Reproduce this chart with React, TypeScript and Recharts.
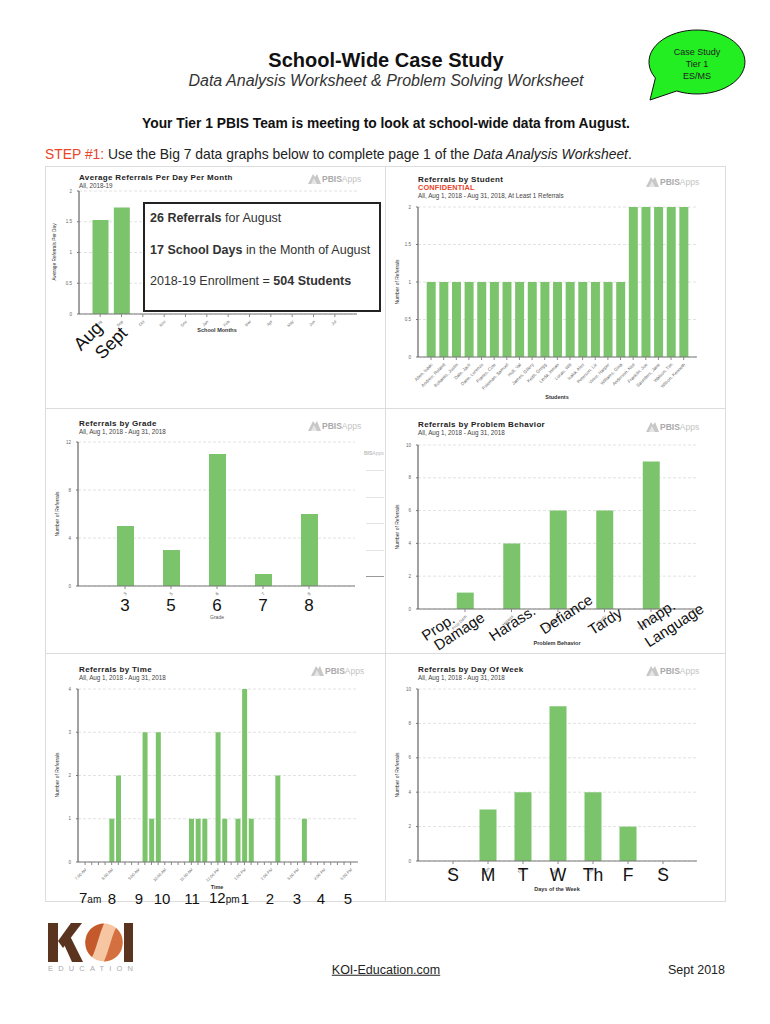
import React from 'react';
import { BarChart, Bar, XAxis, YAxis, CartesianGrid } from 'recharts';

const GREEN = '#7bc46b';
const FONT = '"Liberation Sans", Arial, Helvetica, sans-serif';

// ---------- data ----------
const months = ['Aug', 'Sep', 'Oct', 'Nov', 'Dec', 'Jan', 'Feb', 'Mar', 'Apr', 'May', 'Jun', 'Jul'];
const avgReferralsPerDay = [1.53, 1.73, null, null, null, null, null, null, null, null, null, null];

const students = [
  'Allen, Isaac', 'Andrew, Roland', 'Bohanks, Justin', 'Dale, Jack', 'Dane, Lorenzo',
  'Franks, Cole', 'Foleman, Samuel', 'Holt, Val', 'James, Gillery', 'Keith, Gregg',
  'Linda, Inman', 'Lucas, Will', 'Isaka, Alex', 'Peterson, Liz', 'Vince, Harper',
  'Williams, Gina', 'Anderson, Neil', 'Franklin, Joe', 'Saunders, Jane', 'Watson, Tim',
  'Wilson, Kenneth',
];
const studentReferrals = [1, 1, 1, 1, 1, 1, 1, 1, 1, 1, 1, 1, 1, 1, 1, 1, 2, 2, 2, 2, 2];

const grades = ['3', '5', '6', '7', '8'];
const gradeReferrals = [5, 3, 11, 1, 6];

const behaviors = ['Prop Dam', 'Harass', 'Defiance', 'Tardy', 'Inapp Lan'];
const behaviorReferrals = [1, 4, 6, 6, 9];

const times = [
  '7:00 AM', '7:15 AM', '7:30 AM', '7:45 AM', '8:00 AM', '8:15 AM', '8:30 AM', '8:45 AM',
  '9:00 AM', '9:15 AM', '9:30 AM', '9:45 AM', '10:00 AM', '10:15 AM', '10:30 AM', '10:45 AM',
  '11:00 AM', '11:15 AM', '11:30 AM', '11:45 AM', '12:00 PM', '12:15 PM', '12:30 PM', '12:45 PM',
  '1:00 PM', '1:15 PM', '1:30 PM', '1:45 PM', '2:00 PM', '2:15 PM', '2:30 PM', '2:45 PM',
  '3:00 PM', '3:15 PM', '3:30 PM', '3:45 PM', '4:00 PM', '4:15 PM', '4:30 PM', '4:45 PM',
  '5:00 PM',
];
const timeReferrals = [
  0, 0, 0, 0, 1, 2, 0, 0,
  0, 3, 1, 3, 0, 0, 0, 0,
  1, 1, 1, 0, 3, 1, 0, 1,
  4, 1, 0, 0, 0, 2, 0, 0,
  0, 1, 0, 0, 0, 0, 0, 0,
  0,
];

const days = ['Sun', 'Mon', 'Tue', 'Wed', 'Thu', 'Fri', 'Sat'];
const dayReferrals = [0, 3, 4, 9, 4, 2, 0];

const zip = (names: string[], vals: (number | null)[]) => names.map((name, i) => ({ name, value: vals[i] }));

// ---------- helpers ----------
type TxtProps = {
  x: number; y: number; size: number; children: React.ReactNode;
  bold?: boolean; italic?: boolean; color?: string; anchor?: 'start' | 'middle' | 'end';
  rotate?: number; ls?: number; underline?: boolean;
};
const Txt = ({ x, y, size, children, bold, italic, color = '#222', anchor = 'start', rotate = 0, ls = 0, underline }: TxtProps) => {
  const tx = anchor === 'middle' ? '-50%' : anchor === 'end' ? '-100%' : '0%';
  return (
    <div style={{ position: 'absolute', left: x, top: y, width: 0, height: 0 }}>
      <div
        style={{
          position: 'absolute', left: 0, top: 0, fontSize: size, lineHeight: `${size}px`,
          fontWeight: bold ? 700 : 400, fontStyle: italic ? 'italic' : 'normal', color,
          whiteSpace: 'nowrap', letterSpacing: ls, fontFamily: FONT,
          textDecoration: underline ? 'underline' : 'none',
          transform: `translate(${tx}, -50%) rotate(${rotate}deg)`,
        }}
      >
        {children}
      </div>
    </div>
  );
};

const RotTick = (props: any) => {
  const { x, y, payload, fs, show } = props;
  if (show && !show(payload.value)) return <g />;
  const yy = y + 2;
  return (
    <text x={x + 1} y={yy} transform={`rotate(-45 ${x + 1} ${yy})`} textAnchor="end" fontSize={fs} fill="#666" fontFamily={FONT} dy="0.3em">
      {payload.value}
    </text>
  );
};

type Plot = { x1: number; y1: number; x2: number; y2: number };
const MiniBar = ({ data, plot, domain, ticks, pad, barSize, fs, show }: {
  data: any[]; plot: Plot; domain: [number, number]; ticks: number[]; pad: [number, number];
  barSize: number; fs: number; show?: (v: string) => boolean;
}) => {
  const yW = 40, top = 10, right = 10, xH = 40;
  const width = plot.x2 - plot.x1 + yW + right;
  const height = plot.y2 - plot.y1 + top + xH;
  return (
    <div style={{ position: 'absolute', left: plot.x1 - yW, top: plot.y1 - top }}>
      <BarChart width={width} height={height} data={data} margin={{ top, right, left: 0, bottom: 0 }}>
        <CartesianGrid vertical={false} stroke="#e2e2e2" strokeDasharray="3 2" />
        <XAxis
          dataKey="name" interval={0} padding={{ left: pad[0], right: pad[1] }} height={xH}
          tick={(p: any) => <RotTick {...p} fs={fs} show={show} />}
          tickLine={{ stroke: '#888' }} tickSize={3} axisLine={{ stroke: '#777' }}
        />
        <YAxis
          width={yW} domain={domain} ticks={ticks} type="number"
          tick={{ fontSize: 4.5, fill: '#666', fontFamily: FONT }} tickSize={2} tickMargin={5}
          axisLine={{ stroke: '#444' }} tickLine={{ stroke: '#777' }}
        />
        <Bar dataKey="value" fill={GREEN} barSize={barSize} isAnimationActive={false} />
      </BarChart>
    </div>
  );
};

const PbisLogo = ({ x, y }: { x: number; y: number }) => (
  <svg style={{ position: 'absolute', left: x, top: y - 7 }} width={58} height={14}>
    <polygon points="1,13 6,3 8,6 10,3 14,13" fill="#c8c8c8" />
    <polygon points="4,13 7,7 10,13" fill="#e6e6e6" />
    <text x={15} y={10.5} fontSize={8.5} fontFamily={FONT} fill="#aaa">
      <tspan fontWeight={700}>PBIS</tspan><tspan fill="#c4c4c4">Apps</tspan>
    </text>
  </svg>
);

const ChartHead = ({ x, y, title, sub, conf }: { x: number; y: number; title: string; sub: string; conf?: boolean }) => (
  <>
    <Txt x={x} y={y} size={8} bold ls={0.35} color="#222">{title}</Txt>
    {conf && <Txt x={x} y={y + 8} size={7.3} bold ls={0.2} color="#e8452a">CONFIDENTIAL</Txt>}
    <Txt x={x} y={y + (conf ? 15.5 : 7.5)} size={6.3} color="#444">{sub}</Txt>
  </>
);

const SUB = 'All, Aug 1, 2018 - Aug 31, 2018';

export default function App() {
  const timeShow = (v: string) => v.includes(':00');
  return (
    <div style={{ position: 'absolute', left: 0, top: 0, width: 770, height: 1024, background: '#fff', overflow: 'hidden', fontFamily: FONT }}>
      {/* header */}
      <Txt x={386} y={60} size={20} bold anchor="middle" color="#111">School-Wide Case Study</Txt>
      <Txt x={386} y={81} size={16} italic anchor="middle" color="#333">Data Analysis Worksheet &amp; Problem Solving Worksheet</Txt>

      <svg style={{ position: 'absolute', left: 0, top: 0 }} width={770} height={110}>
        <path d="M 676.7 91 L 650 100 L 655.4 78 A 48 32 0 1 1 676.7 91 Z" fill="#22ee22" stroke="#111" strokeWidth={1} />
        <text x={697} y={55} textAnchor="middle" fontSize={9} fontFamily={FONT} fill="#222">Case Study</text>
        <text x={697} y={67} textAnchor="middle" fontSize={9} fontFamily={FONT} fill="#222">Tier 1</text>
        <text x={697} y={79} textAnchor="middle" fontSize={9} fontFamily={FONT} fill="#222">ES/MS</text>
      </svg>

      <Txt x={386} y={124} size={13.8} bold anchor="middle" color="#111">Your Tier 1 PBIS Team is meeting to look at school-wide data from August.</Txt>
      <Txt x={45} y={155} size={13.9} color="#222">
        <span style={{ color: '#e8452a' }}>STEP #1:</span> Use the Big 7 data graphs below to complete page 1 of the <i>Data Analysis Worksheet</i>.
      </Txt>

      {/* panel frame */}
      <div style={{ position: 'absolute', left: 45, top: 166, width: 679, height: 734, border: '1px solid #dcdcdc' }} />
      <div style={{ position: 'absolute', left: 385, top: 166, width: 1, height: 735, background: '#dcdcdc' }} />
      <div style={{ position: 'absolute', left: 45, top: 408, width: 680, height: 1, background: '#dcdcdc' }} />
      <div style={{ position: 'absolute', left: 45, top: 653, width: 680, height: 1, background: '#dcdcdc' }} />

      {/* chart 1 : average referrals per day per month */}
      <ChartHead x={79} y={178} title="Average Referrals Per Day Per Month" sub="All, 2018-19" />
      <PbisLogo x={307} y={178} />
      <MiniBar data={zip(months, avgReferralsPerDay)} plot={{ x1: 79, y1: 191, x2: 357, y2: 314 }} domain={[0, 2]} ticks={[0, 0.5, 1, 1.5, 2]} pad={[10.5, 11.5]} barSize={16} fs={4} />
      <Txt x={55} y={252} size={4.8} anchor="middle" rotate={-90} color="#333">Average Referrals Per Day</Txt>
      <Txt x={217} y={331} size={5.5} bold anchor="middle" color="#333">School Months</Txt>
      <div style={{ position: 'absolute', left: 143, top: 202, width: 234, height: 106, border: '2px solid #222', background: '#fff' }} />
      <Txt x={150} y={218} size={12.5} color="#333"><b>26 Referrals</b> for August</Txt>
      <Txt x={150} y={250} size={12.5} color="#333"><b>17 School Days</b> in the Month of August</Txt>
      <Txt x={150} y={281} size={12.5} color="#333">2018-19 Enrollment = <b>504 Students</b></Txt>
      <Txt x={88} y={336} size={18} anchor="middle" rotate={-45} color="#111">Aug</Txt>
      <Txt x={111} y={343} size={18} anchor="middle" rotate={-45} color="#111">Sept</Txt>

      {/* chart 2 : referrals by student */}
      <ChartHead x={418} y={180} title="Referrals by Student" sub="All, Aug 1, 2018 - Aug 31, 2018, At Least 1 Referrals" conf />
      <PbisLogo x={645} y={181} />
      <MiniBar data={zip(students, studentReferrals)} plot={{ x1: 418, y1: 207, x2: 697, y2: 357 }} domain={[0, 2]} ticks={[0, 0.5, 1, 1.5, 2]} pad={[6.7, 7]} barSize={9} fs={4.5} />
      <Txt x={397} y={282} size={5} anchor="middle" rotate={-90} color="#333">Number of Referrals</Txt>
      <Txt x={557} y={398} size={5.5} bold anchor="middle" color="#333">Students</Txt>

      {/* chart 3 : referrals by grade */}
      <ChartHead x={79} y={424} title="Referrals by Grade" sub={SUB} />
      <PbisLogo x={307} y={425} />
      <MiniBar data={zip(grades, gradeReferrals)} plot={{ x1: 78, y1: 442, x2: 355, y2: 586 }} domain={[0, 12]} ticks={[0, 4, 8, 12]} pad={[24, 23]} barSize={17} fs={4.5} />
      <Txt x={57} y={514} size={5} anchor="middle" rotate={-90} color="#333">Number of Referrals</Txt>
      <Txt x={217} y={617} size={5} anchor="middle" color="#555">Grade</Txt>
      <Txt x={364} y={453} size={5} color="#bbb"><b>BIS</b>Apps</Txt>
      {[470, 497, 523, 550].map((yy) => (
        <div key={yy} style={{ position: 'absolute', left: 366, top: yy, width: 18, height: 1, background: '#e4e4e4' }} />
      ))}
      <div style={{ position: 'absolute', left: 366, top: 576, width: 18, height: 1, background: '#999' }} />
      {grades.map((g, i) => (
        <Txt key={g} x={125 + i * 46} y={605} size={17} anchor="middle" color="#111">{g}</Txt>
      ))}

      {/* chart 4 : referrals by problem behavior */}
      <ChartHead x={418} y={425} title="Referrals by Problem Behavior" sub={SUB} />
      <PbisLogo x={645} y={426} />
      <MiniBar data={zip(behaviors, behaviorReferrals)} plot={{ x1: 418, y1: 445, x2: 697, y2: 609 }} domain={[0, 10]} ticks={[0, 2, 4, 6, 8, 10]} pad={[23.75, 22.75]} barSize={17} fs={4.2} />
      <Txt x={397} y={527} size={5} anchor="middle" rotate={-90} color="#333">Number of Referrals</Txt>
      <Txt x={557} y={644} size={5.5} bold anchor="middle" color="#333">Problem Behavior</Txt>
      <Txt x={438} y={627} size={15} anchor="middle" rotate={-33} color="#111">Prop.</Txt>
      <Txt x={459} y={631} size={15} anchor="middle" rotate={-33} color="#111">Damage</Txt>
      <Txt x={512} y={623} size={15} anchor="middle" rotate={-33} color="#111">Harass.</Txt>
      <Txt x={566} y={614} size={15} anchor="middle" rotate={-33} color="#111">Defiance</Txt>
      <Txt x={605} y={621} size={15} anchor="middle" rotate={-33} color="#111">Tardy</Txt>
      <Txt x={656} y={615} size={15} anchor="middle" rotate={-33} color="#111">Inapp.</Txt>
      <Txt x={674} y={625} size={15} anchor="middle" rotate={-33} color="#111">Language</Txt>

      {/* chart 5 : referrals by time */}
      <ChartHead x={79} y={670} title="Referrals by Time" sub={SUB} />
      <PbisLogo x={310} y={670} />
      <MiniBar data={zip(times, timeReferrals)} plot={{ x1: 78, y1: 689, x2: 358, y2: 862 }} domain={[0, 4]} ticks={[0, 1, 2, 3, 4]} pad={[3.8, 4]} barSize={5} fs={4} show={timeShow} />
      <Txt x={57} y={775} size={5} anchor="middle" rotate={-90} color="#333">Number of Referrals</Txt>
      <Txt x={217} y={888} size={5.5} bold anchor="middle" color="#333">Time</Txt>
      <Txt x={79} y={898} size={15} color="#111">7<span style={{ fontSize: 10 }}>am</span></Txt>
      <Txt x={112} y={898} size={15} anchor="middle" color="#111">8</Txt>
      <Txt x={139} y={898} size={15} anchor="middle" color="#111">9</Txt>
      <Txt x={162} y={898} size={15} anchor="middle" color="#111">10</Txt>
      <Txt x={192} y={898} size={15} anchor="middle" color="#111">11</Txt>
      <Txt x={209} y={898} size={15} color="#111">12<span style={{ fontSize: 10 }}>pm</span></Txt>
      <Txt x={245} y={898} size={15} anchor="middle" color="#111">1</Txt>
      <Txt x={270} y={898} size={15} anchor="middle" color="#111">2</Txt>
      <Txt x={297} y={898} size={15} anchor="middle" color="#111">3</Txt>
      <Txt x={321} y={898} size={15} anchor="middle" color="#111">4</Txt>
      <Txt x={348} y={898} size={15} anchor="middle" color="#111">5</Txt>

      {/* chart 6 : referrals by day of week */}
      <ChartHead x={418} y={670} title="Referrals by Day Of Week" sub={SUB} />
      <PbisLogo x={645} y={670} />
      <MiniBar data={zip(days, dayReferrals)} plot={{ x1: 418, y1: 689, x2: 697, y2: 861 }} domain={[0, 10]} ticks={[0, 2, 4, 6, 8, 10]} pad={[17.5, 16.5]} barSize={17} fs={4.5} />
      <Txt x={397} y={775} size={5} anchor="middle" rotate={-90} color="#333">Number of Referrals</Txt>
      <Txt x={557} y={890} size={5.5} bold anchor="middle" color="#333">Days of the Week</Txt>
      {['S', 'M', 'T', 'W', 'Th', 'F', 'S'].map((d, i) => (
        <Txt key={i} x={453 + i * 35} y={876} size={17.5} anchor="middle" color="#111">{d}</Txt>
      ))}

      {/* footer */}
      <svg style={{ position: 'absolute', left: 0, top: 910 }} width={180} height={70}>
        <g transform="translate(0,-910)">
          <rect x={48} y={923} width={10} height={39} fill="#5b3420" />
          <polygon points="58,941 71,923 82,923 63,948" fill="#5b3420" />
          <polygon points="62,940 69,934 83,962 72,962" fill="#5b3420" />
          <circle cx={104} cy={942.5} r={19} fill="#f6c6a2" />
          <path d="M 104 923.5 A 19 19 0 0 0 92 957 C 96 950 98 938 104 923.5 Z" fill="#c4592b" />
          <path d="M 104 961.5 A 19 19 0 0 0 116 928 C 112 935 110 947 104 961.5 Z" fill="#d4703f" />
          <rect x={124} y={923} width={9} height={39} fill="#5b3420" />
          <text x={48} y={971} fontSize={7.5} fontFamily={FONT} fill="#aaa" textLength={85} lengthAdjust="spacing">EDUCATION</text>
        </g>
      </svg>
      <Txt x={386} y={970} size={12.5} anchor="middle" color="#222" underline>KOI-Education.com</Txt>
      <Txt x={668} y={970} size={12.5} color="#222">Sept 2018</Txt>
    </div>
  );
}
